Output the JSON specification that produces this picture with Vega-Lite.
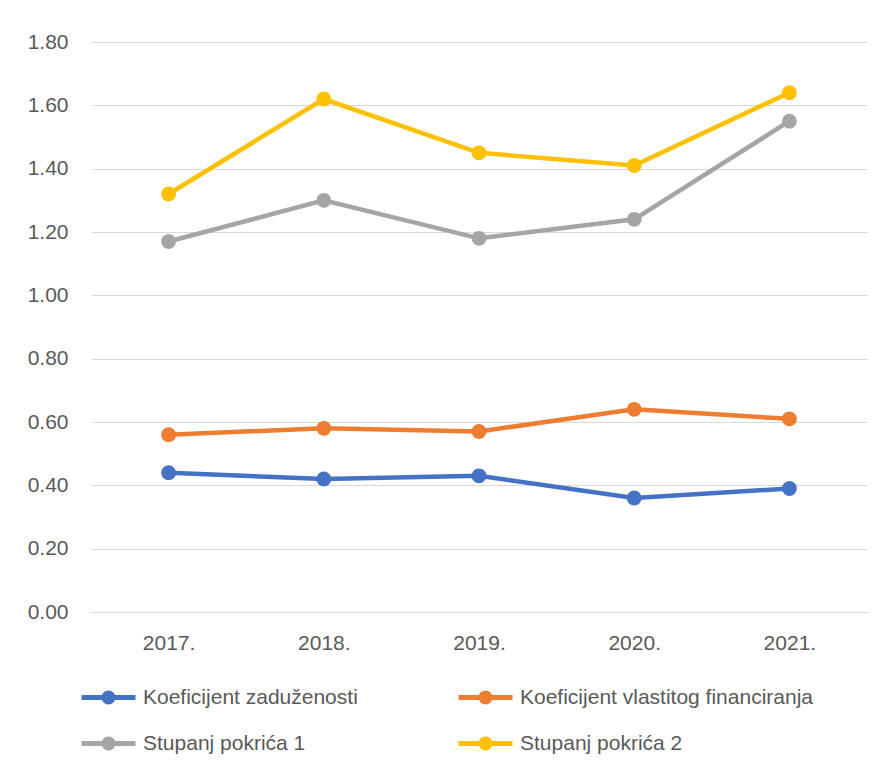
{
 "$schema": "https://vega.github.io/schema/vega-lite/v6.json",
 "width": 776, "height": 570,
 "autosize": "none",
 "padding": {"left": 91, "top": 42, "right": 16, "bottom": 155},
 "background": "white",
 "data": {"values": [
  {"year": "2017.", "series": "Koeficijent zaduženosti", "value": 0.44},
  {"year": "2018.", "series": "Koeficijent zaduženosti", "value": 0.42},
  {"year": "2019.", "series": "Koeficijent zaduženosti", "value": 0.43},
  {"year": "2020.", "series": "Koeficijent zaduženosti", "value": 0.36},
  {"year": "2021.", "series": "Koeficijent zaduženosti", "value": 0.39},
  {"year": "2017.", "series": "Koeficijent vlastitog financiranja", "value": 0.56},
  {"year": "2018.", "series": "Koeficijent vlastitog financiranja", "value": 0.58},
  {"year": "2019.", "series": "Koeficijent vlastitog financiranja", "value": 0.57},
  {"year": "2020.", "series": "Koeficijent vlastitog financiranja", "value": 0.64},
  {"year": "2021.", "series": "Koeficijent vlastitog financiranja", "value": 0.61},
  {"year": "2017.", "series": "Stupanj pokrića 1", "value": 1.17},
  {"year": "2018.", "series": "Stupanj pokrića 1", "value": 1.30},
  {"year": "2019.", "series": "Stupanj pokrića 1", "value": 1.18},
  {"year": "2020.", "series": "Stupanj pokrića 1", "value": 1.24},
  {"year": "2021.", "series": "Stupanj pokrića 1", "value": 1.55},
  {"year": "2017.", "series": "Stupanj pokrića 2", "value": 1.32},
  {"year": "2018.", "series": "Stupanj pokrića 2", "value": 1.62},
  {"year": "2019.", "series": "Stupanj pokrića 2", "value": 1.45},
  {"year": "2020.", "series": "Stupanj pokrića 2", "value": 1.41},
  {"year": "2021.", "series": "Stupanj pokrića 2", "value": 1.64}
 ]},
 "mark": {"type": "line", "strokeWidth": 4.5, "point": {"filled": true, "size": 220, "opacity": 1}},
 "encoding": {
  "x": {"field": "year", "type": "ordinal", "sort": null,
   "axis": {"title": null, "labelAngle": 0, "ticks": false, "domain": true, "domainColor": "#d9d9d9", "labelPadding": 20, "labelFontSize": 21, "labelColor": "#595959", "labelFont": "Liberation Sans", "grid": false}},
  "y": {"field": "value", "type": "quantitative", "scale": {"domain": [0, 1.8], "nice": false, "zero": true},
   "axis": {"title": null, "values": [0, 0.2, 0.4, 0.6, 0.8, 1.0, 1.2, 1.4, 1.6, 1.8], "format": ".2f", "ticks": false, "domain": false, "grid": true, "gridColor": "#d9d9d9", "gridWidth": 1, "labelPadding": 23, "labelFontSize": 21, "labelColor": "#595959", "labelFont": "Liberation Sans"}},
  "color": {"field": "series", "type": "nominal", "sort": null,
   "scale": {"domain": ["Koeficijent zaduženosti", "Koeficijent vlastitog financiranja", "Stupanj pokrića 1", "Stupanj pokrića 2"], "range": ["#4472C4", "#ED7D31", "#A5A5A5", "#FFC000"]},
   "legend": {"orient": "none", "legendX": 5, "legendY": 643, "columns": 2, "direction": "horizontal", "title": null, "padding": 0,
    "symbolType": "M-2.7,0L2.7,0M0.45,0A0.45,0.45,0,1,1,-0.45,0A0.45,0.45,0,1,1,0.45,0Z",
    "symbolSize": 400, "symbolStrokeWidth": 5, "labelFontSize": 21, "labelFont": "Liberation Sans", "labelColor": "#595959",
    "labelOffset": 22, "columnPadding": 90, "rowPadding": 17, "labelLimit": 500,
    "encode": {"symbols": {"update": {"fill": {"scale": "color", "field": "value"}, "stroke": {"scale": "color", "field": "value"}, "fillOpacity": {"value": 1}, "strokeOpacity": {"value": 1}, "opacity": {"value": 1}}}}}}
 },
 "config": {"view": {"stroke": null}}
}
